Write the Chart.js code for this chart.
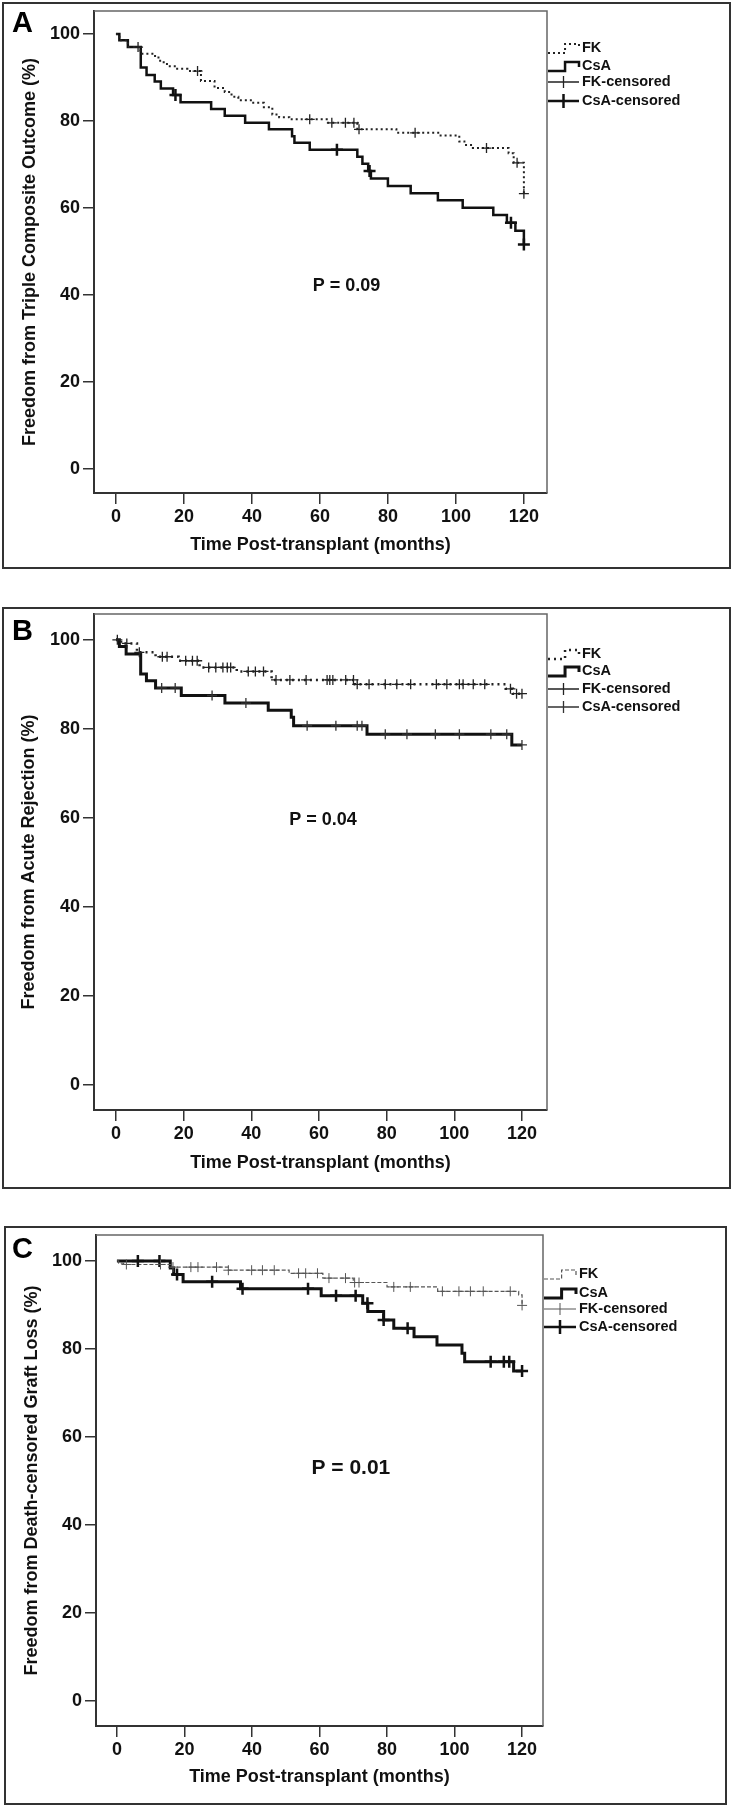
<!DOCTYPE html>
<html>
<head>
<meta charset="utf-8">
<script src="https://cdn.jsdelivr.net/npm/chart.js@4.4.1/dist/chart.umd.min.js"></script>
<style>
  html, body { margin: 0; padding: 0; background: #fff; }
  body { position: relative; width: 733px; height: 1809px; overflow: hidden; font-family: "Liberation Sans", Arial, sans-serif; }
  .frame { position: absolute; box-sizing: border-box; border: 2px solid #333; }
  canvas { position: absolute; left: 0; }
  .letter { position: absolute; left: 12px; font-weight: bold; font-size: 29px; line-height: 1; color: #000; }
</style>
</head>
<body>
<div class="frame" style="left:2px;top:2px;width:729px;height:567px"></div>
<div class="frame" style="left:2px;top:607px;width:729px;height:582px"></div>
<div class="frame" style="left:4px;top:1226px;width:723px;height:579px"></div>
<canvas id="chartA" width="733" height="580" style="top:0px"></canvas>
<canvas id="chartB" width="733" height="600" style="top:600px"></canvas>
<canvas id="chartC" width="733" height="594" style="top:1215px"></canvas>
<div class="letter" style="top:8px">A</div>
<div class="letter" style="top:616px">B</div>
<div class="letter" style="top:1234px">C</div>
<script>
// axis ticks shared by all three panels
const xTicks = [0, 20, 40, 60, 80, 100, 120];
const yTicks = [0, 20, 40, 60, 80, 100];
const legendLabels = ['FK', 'CsA', 'FK-censored', 'CsA-censored'];
const xTitle = 'Time Post-transplant (months)';

// A: triple composite outcome (step times in months, survival %)
const aFkTime = [0, 1, 3.5, 7.2, 11.5, 13, 15, 18, 21, 25, 29, 32, 34, 36, 40, 43.5, 46, 48, 51, 62, 71, 82.5, 95.5, 101, 102.5, 105, 115.5, 117, 120];
const aFkSurv = [100, 98.6, 97, 95.5, 94.6, 93.5, 92.6, 92, 91.5, 89.2, 87.6, 86.7, 85.6, 84.8, 84.2, 83.2, 81.5, 80.9, 80.4, 79.6, 78.1, 77.3, 76.7, 75.3, 74.5, 73.8, 72.6, 70.4, 63.3];
const aCsaTime = [0, 1, 3.5, 7.3, 9, 11.4, 13.2, 16.8, 19, 28, 32, 38, 45, 51.8, 52.5, 57, 71, 72.5, 74.2, 75, 80, 86.7, 94.7, 102, 111, 115, 117.5, 120];
const aCsaSurv = [100, 98.6, 97, 92.3, 90.6, 89.1, 87.5, 86, 84.3, 82.8, 81.2, 79.6, 78.1, 76.5, 75, 73.4, 71.8, 70.2, 68.5, 66.8, 65.1, 63.4, 61.8, 60.1, 58.4, 56.6, 54.8, 51.6];
const aFkCensor = [6.5, 24, 57, 63.5, 67.5, 70, 71.5, 88, 109, 118, 120];
const aCsaCensor = [17.5, 65, 74.6, 116.2, 120];

// B: acute rejection
const bFkTime = [0, 1.5, 6.2, 11.7, 18.5, 24.7, 35.7, 46, 70.6, 115.2, 117.3, 120];
const bFkSurv = [100, 99.2, 97.2, 96.2, 95.3, 93.8, 92.9, 91, 90, 89, 87.9, 87.9];
const bCsaTime = [0, 1, 3, 7.3, 9, 11.7, 19.3, 32.2, 45, 51.8, 52.5, 74.2, 117, 120];
const bCsaSurv = [100, 98.5, 96.8, 92.3, 90.8, 89.2, 87.5, 85.8, 84.2, 82.6, 80.7, 78.8, 76.4, 76.4];
const bFkCensor = [0.4, 3.2, 6.9, 13.7, 15.1, 20.6, 22.6, 24, 27.4, 29.5, 31.6, 32.9, 33.9, 39.1, 41.2, 43.6, 47.3, 51.4, 56.2, 62.4, 63.2, 64.1, 67.9, 70.2, 71.3, 74.8, 79.6, 83, 87.1, 94.7, 97.8, 101.5, 102.6, 105.6, 109, 116.6, 118.4, 120];
const bCsaCensor = [13.5, 17.5, 28.4, 38.4, 56.5, 65, 71.3, 72.7, 79.6, 86, 94.4, 101.5, 110.8, 115.5, 120];

// C: death-censored graft loss
const cFkTime = [0, 0.5, 2, 16, 33, 51, 61, 70, 80, 95, 119, 120];
const cFkSurv = [100, 99.5, 99.2, 98.6, 97.9, 97.2, 96.1, 95.1, 94.1, 93.1, 92.3, 89.9];
const cCsaTime = [0, 15.8, 16.8, 19.6, 36.6, 60.5, 72.8, 74.3, 79, 82, 88, 94.8, 102.2, 103, 117.5, 120];
const cCsaSurv = [100, 98.4, 96.9, 95.3, 93.7, 92.1, 90.4, 88.5, 86.6, 84.7, 82.8, 80.9, 79, 77.1, 75, 75];
const cFkCensor = [2.8, 12.9, 16.6, 21.9, 24, 29.5, 33, 39.9, 43.1, 46.6, 53.8, 55.9, 59.4, 62.8, 67.7, 70.4, 71.7, 82, 86.9, 96.4, 101.3, 104.7, 108.5, 116.5, 120];
const cCsaCensor = [6.2, 12.6, 17.8, 28.2, 37.2, 56.6, 64.9, 70.7, 74.2, 79, 86.1, 110.7, 114.6, 116.2, 120];

const FONT = '"Liberation Sans", Arial, Helvetica, sans-serif';
Chart.defaults.font.family = FONT;
Chart.defaults.font.weight = 'bold';
Chart.defaults.font.size = 18;
Chart.defaults.color = '#111';

// survival value of a step curve at time t
function survAt(times, surv, t) {
    let v = surv[0];
    for (let i = 0; i < times.length; i++) if (times[i] <= t) v = surv[i];
    return v;
}
const stepPoints = (times, surv) => times.map((t, i) => ({ x: t, y: surv[i] }));
const censorPoints = (cens, times, surv) => cens.map(t => ({ x: t, y: survAt(times, surv, t) }));

// plot box edges, p value and the legend at the right
const extras = {
    id: 'extras',
    afterDraw(chart, args, o) {
        const { ctx, chartArea: a, scales } = chart;
        ctx.save();
        ctx.strokeStyle = '#666';
        ctx.lineWidth = 1.5;
        ctx.beginPath();
        ctx.moveTo(a.left, a.top);
        ctx.lineTo(a.right, a.top);
        ctx.lineTo(a.right, a.bottom);
        ctx.stroke();

        ctx.fillStyle = '#111';
        ctx.textAlign = 'center';
        ctx.textBaseline = 'middle';
        ctx.font = `bold ${o.pSize}px ${FONT}`;
        ctx.fillText(o.pText, scales.x.getPixelForValue(o.pAt[0]), scales.y.getPixelForValue(o.pAt[1]));

        const st = o.style, lg = o.legend;
        ctx.font = `bold ${lg.size}px ${FONT}`;
        ctx.textAlign = 'left';
        legendLabels.forEach((txt, i) => {
            const y = lg.rows[i], x0 = lg.sampleX, x1 = lg.textX - 3;
            ctx.save();
            if (i < 2) {
                const s = i === 0 ? st.fk : st.csa;
                const xm = x0 + (x1 - x0) * 0.55;
                ctx.strokeStyle = s.color;
                ctx.lineWidth = s.w;
                ctx.setLineDash(s.dash || []);
                ctx.beginPath();
                ctx.moveTo(x0, y + 5);
                ctx.lineTo(xm, y + 5);
                ctx.lineTo(xm, y - 4);
                ctx.lineTo(x1, y - 4);
                ctx.lineTo(x1, y + 1);
                ctx.stroke();
            } else {
                const s = i === 2 ? st.fkCens : st.csaCens;
                const xm = (x0 + x1) / 2;
                ctx.strokeStyle = s.color;
                ctx.lineWidth = s.w;
                ctx.beginPath();
                ctx.moveTo(x0, y);
                ctx.lineTo(x1, y);
                ctx.moveTo(xm, y - s.r - 1);
                ctx.lineTo(xm, y + s.r + 1);
                ctx.stroke();
            }
            ctx.restore();
            ctx.fillText(txt, lg.textX, y);
        });
        ctx.restore();
    }
};

function makeChart(p) {
    const st = p.style;
    const cross = s => ({ type: 'scatter', pointStyle: 'cross', pointRadius: s.r, pointBorderWidth: s.w,
        pointBorderColor: s.color, borderColor: s.color, backgroundColor: s.color, showLine: false });
    return new Chart(document.getElementById(p.id), {
        type: 'line',
        data: {
            datasets: [
                Object.assign({ label: legendLabels[2], data: censorPoints(p.fkCensor, p.fkTime, p.fkSurv) }, cross(st.fkCens)),
                Object.assign({ label: legendLabels[3], data: censorPoints(p.csaCensor, p.csaTime, p.csaSurv) }, cross(st.csaCens)),
                { label: legendLabels[0], data: stepPoints(p.fkTime, p.fkSurv), stepped: true, borderColor: st.fk.color,
                  borderWidth: st.fk.w, borderDash: st.fk.dash, pointRadius: 0, fill: false },
                { label: legendLabels[1], data: stepPoints(p.csaTime, p.csaSurv), stepped: true, borderColor: st.csa.color,
                  borderWidth: st.csa.w, pointRadius: 0, fill: false }
            ]
        },
        options: {
            responsive: false,
            animation: false,
            events: [],
            layout: { padding: { left: 0, top: p.area.top, right: p.area.right, bottom: 0 } },
            scales: {
                x: {
                    type: 'linear', min: p.xRange[0], max: p.xRange[1],
                    afterBuildTicks: s => { s.ticks = xTicks.map(v => ({ value: v })); },
                    afterFit: s => { s.height = p.area.xH; s.paddingLeft = 0; s.paddingRight = 0; },
                    ticks: { padding: 2, color: '#111' },
                    grid: { drawOnChartArea: false, drawTicks: true, tickLength: 11, color: '#333', lineWidth: 1.5 },
                    border: { display: true, color: '#333', width: 2 },
                    title: { display: true, text: xTitle, color: '#111', font: { size: 18, weight: 'bold' },
                             padding: { top: 4, bottom: p.area.xTitlePad } }
                },
                y: {
                    type: 'linear', min: p.yRange[0], max: p.yRange[1],
                    afterBuildTicks: s => { s.ticks = yTicks.map(v => ({ value: v })); },
                    afterFit: s => { s.width = p.area.yW; s.paddingTop = 0; s.paddingBottom = 0; },
                    ticks: { padding: 3, color: '#111' },
                    grid: { drawOnChartArea: false, drawTicks: true, tickLength: 11, color: '#333', lineWidth: 1.5 },
                    border: { display: true, color: '#333', width: 2 },
                    title: { display: true, text: p.yTitle, color: '#111', font: { size: 18, weight: 'bold' },
                             padding: { top: p.area.yTitlePad, bottom: 4 } }
                }
            },
            plugins: {
                legend: { display: false },
                tooltip: { enabled: false },
                extras: { pText: p.pText, pAt: p.pAt, pSize: p.pSize, style: st, legend: p.legend }
            }
        },
        plugins: [extras]
    });
}

makeChart({
    id: 'chartA', yTitle: 'Freedom from Triple Composite Outcome (%)',
    fkTime: aFkTime, fkSurv: aFkSurv, csaTime: aCsaTime, csaSurv: aCsaSurv, fkCensor: aFkCensor, csaCensor: aCsaCensor,
    pText: 'P = 0.09', pAt: [67.8, 42.1], pSize: 18,
    xRange: [-6.46, 126.8], yRange: [-5.5, 105.3],
    area: { top: 11, right: 186, yW: 94, xH: 87, xTitlePad: 24, yTitlePad: 19 },
    legend: { rows: [48, 66, 82, 101], textX: 582, sampleX: 548, size: 14.5 },
    style: {
        fk: { color: '#222', w: 2, dash: [2, 3] },
        csa: { color: '#111', w: 2.5 },
        fkCens: { color: '#222', w: 1.3, r: 5 },
        csaCens: { color: '#111', w: 2.5, r: 6 }
    }
});

makeChart({
    id: 'chartB', yTitle: 'Freedom from Acute Rejection (%)',
    fkTime: bFkTime, fkSurv: bFkSurv, csaTime: bCsaTime, csaSurv: bCsaSurv, fkCensor: bFkCensor, csaCensor: bCsaCensor,
    pText: 'P = 0.04', pAt: [61.2, 59.5], pSize: 18,
    xRange: [-6.5, 127.4], yRange: [-5.6, 105.8],
    area: { top: 14, right: 186, yW: 94, xH: 90, xTitlePad: 26, yTitlePad: 18 },
    legend: { rows: [54, 71, 89, 107], textX: 582, sampleX: 548, size: 14.5 },
    style: {
        fk: { color: '#222', w: 2.5, dash: [2, 4] },
        csa: { color: '#111', w: 3 },
        fkCens: { color: '#222', w: 1.3, r: 5 },
        csaCens: { color: '#333', w: 1.3, r: 5 }
    }
});

makeChart({
    id: 'chartC', yTitle: 'Freedom from Death-censored Graft Loss (%)',
    fkTime: cFkTime, fkSurv: cFkSurv, csaTime: cCsaTime, csaSurv: cCsaSurv, fkCensor: cFkCensor, csaCensor: cCsaCensor,
    pText: 'P = 0.01', pAt: [69.3, 53], pSize: 21,
    xRange: [-6.2, 126.2], yRange: [-5.7, 105.9],
    area: { top: 20, right: 190, yW: 96, xH: 83, xTitlePad: 21, yTitlePad: 21 },
    legend: { rows: [59, 78, 94, 112], textX: 579, sampleX: 544, size: 14.5 },
    style: {
        fk: { color: '#555', w: 1.2, dash: [4, 2] },
        csa: { color: '#111', w: 3 },
        fkCens: { color: '#555', w: 1, r: 5 },
        csaCens: { color: '#111', w: 2.5, r: 6 }
    }
});
</script>
</body>
</html>
